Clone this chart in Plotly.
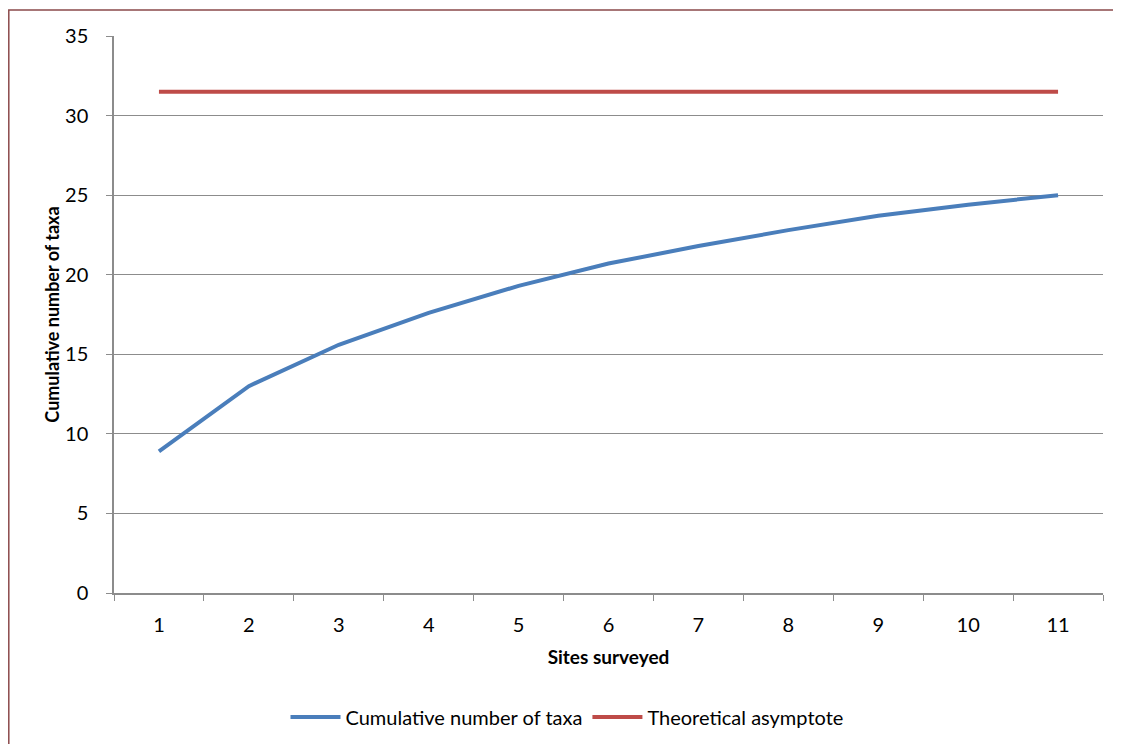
import plotly.graph_objects as go

# data
sites = ["1", "2", "3", "4", "5", "6", "7", "8", "9", "10", "11"]
cumulative_taxa = [8.9, 13.0, 15.6, 17.6, 19.3, 20.7, 21.8, 22.8, 23.7, 24.4, 25.0]
asymptote = [31.5] * len(sites)

_FONT = "Lato, Carlito, Calibri, sans-serif"
_GRID = "#8c8c8c"
_BORDER = "#8b4a4b"

# the page body adds an 8px margin, so the figure is 8px smaller each way
W, H = 1113, 736
OFF = 8

fig = go.Figure()
fig.add_trace(
    go.Scatter(
        x=sites,
        y=cumulative_taxa,
        mode="lines",
        name="Cumulative number of taxa",
        line=dict(color="#4a7ebb", width=4),
    )
)
fig.add_trace(
    go.Scatter(
        x=sites,
        y=asymptote,
        mode="lines",
        name="Theoretical asymptote",
        line=dict(color="#be4b48", width=4),
    )
)

# plot area in page pixels: x 114..1103, y 36..593
L, T = 114 - OFF, 36 - OFF
R, B = W - (1103 - OFF), H - (593 - OFF)
pw, ph = W - L - R, H - T - B


def px_x(px):
    return (px - OFF - L) / pw


def px_y(py):
    return (H - B - (py - OFF)) / ph


fig.add_shape(
    type="rect",
    xref="paper",
    yref="paper",
    x0=px_x(8.8),
    x1=px_x(1135),
    y0=px_y(760),
    y1=px_y(10),
    line=dict(color=_BORDER, width=1.5),
    fillcolor="rgba(0,0,0,0)",
    layer="below",
)

fig.update_layout(
    width=W,
    height=H,
    margin=dict(l=L, r=R, t=T, b=B, autoexpand=False),
    paper_bgcolor="white",
    plot_bgcolor="white",
    font=dict(family=_FONT, size=19, color="black"),
    showlegend=True,
    legend=dict(
        orientation="h",
        x=px_x(567),
        xanchor="center",
        y=px_y(717),
        yanchor="middle",
        font=dict(size=20),
        itemwidth=50,
        tracegroupgap=0,
    ),
    xaxis=dict(
        type="category",
        range=[-0.5, 10.5],
        automargin=False,
        tickson="boundaries",
        ticks="outside",
        ticklen=6,
        tickcolor=_GRID,
        showline=True,
        linecolor=_GRID,
        linewidth=1.5,
        showgrid=False,
        tickfont=dict(size=20),
        ticklabelstandoff=13,
        title=dict(text="<b>Sites surveyed</b>", font=dict(size=19), standoff=16),
    ),
    yaxis=dict(
        range=[0, 35],
        dtick=5,
        automargin=False,
        ticks="outside",
        ticklen=6,
        tickcolor=_GRID,
        showline=True,
        linecolor=_GRID,
        linewidth=1.5,
        showgrid=True,
        gridcolor=_GRID,
        gridwidth=1,
        zeroline=False,
        tickfont=dict(size=20),
        ticklabelstandoff=14,
        title=dict(text="<b>Cumulative number of taxa</b>", font=dict(size=18), standoff=1),
    ),
)

fig.write_html("out.html")
